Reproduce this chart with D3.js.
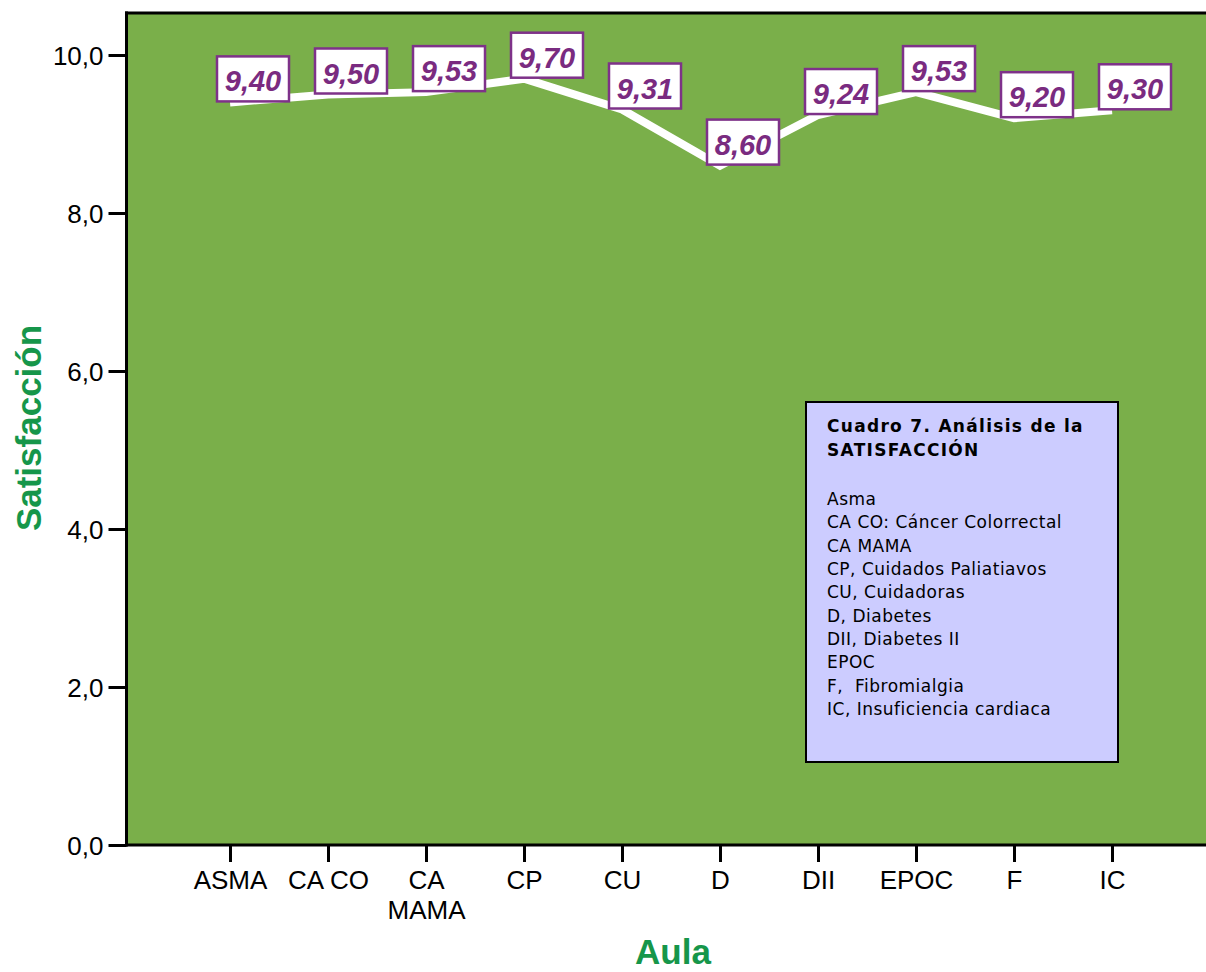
<!DOCTYPE html>
<html>
<head>
<meta charset="utf-8">
<script src="https://cdn.jsdelivr.net/npm/d3@7"></script>
<style>
  html, body { margin: 0; padding: 0; background: #fff; }
  svg { display: block; }
</style>
</head>
<body>
<svg id="chart" width="1206" height="972"></svg>
<script>
// ---- data ----
const categories = ["ASMA", "CA CO", "CA MAMA", "CP", "CU", "D", "DII", "EPOC", "F", "IC"];
const tickLabels = [["ASMA"], ["CA CO"], ["CA", "MAMA"], ["CP"], ["CU"], ["D"], ["DII"], ["EPOC"], ["F"], ["IC"]];
const satisfaction = [9.40, 9.50, 9.53, 9.70, 9.31, 8.60, 9.24, 9.53, 9.20, 9.30];
const yTicks = [0, 2, 4, 6, 8, 10];
const legendTitle = ["Cuadro 7. Análisis de la", "SATISFACCIÓN"];
const legendItems = ["Asma", "CA CO: Cáncer Colorrectal", "CA MAMA", "CP, Cuidados Paliatiavos",
  "CU, Cuidadoras", "D, Diabetes", "DII, Diabetes II", "EPOC", "F,  Fibromialgia", "IC, Insuficiencia cardiaca"];
const xTitle = "Aula";
const yTitle = "Satisfacción";

// ---- layout ----
const plot = { left: 126.5, top: 13, right: 1206, bottom: 845 };
const svg = d3.select("#chart");
const locale = d3.formatLocale({ decimal: ",", thousands: ".", grouping: [3], currency: ["", "€"] });
const f1 = locale.format(".1f");
const f2 = locale.format(".2f");

const x = d3.scalePoint().domain(categories).range([230, 1112]);
const y = d3.scaleLinear().domain([0, 10]).range([845, 55]);

// plot background
svg.append("rect")
  .attr("x", plot.left).attr("y", plot.top)
  .attr("width", plot.right - plot.left).attr("height", plot.bottom - plot.top)
  .attr("fill", "#7AAF4A");

// frame lines
svg.append("line").attr("x1", plot.left - 1.5).attr("x2", plot.right).attr("y1", plot.top).attr("y2", plot.top)
  .attr("stroke", "#000").attr("stroke-width", 3);
svg.append("line").attr("x1", plot.left).attr("x2", plot.left).attr("y1", plot.top - 1.5).attr("y2", plot.bottom + 1.5)
  .attr("stroke", "#000").attr("stroke-width", 3);
svg.append("line").attr("x1", plot.left - 1.5).attr("x2", plot.right).attr("y1", plot.bottom).attr("y2", plot.bottom)
  .attr("stroke", "#000").attr("stroke-width", 3);

// y axis
const yAxis = svg.append("g")
  .attr("transform", `translate(${plot.left},0)`)
  .call(d3.axisLeft(y).tickValues(yTicks).tickFormat(f1).tickSize(18).tickPadding(5));
yAxis.select(".domain").remove();
yAxis.selectAll(".tick line").attr("stroke", "#000").attr("stroke-width", 3);
yAxis.selectAll(".tick text").attr("fill", "#000")
  .style("font-family", "'Liberation Sans', Arial, sans-serif").style("font-size", "26px")
  .attr("dy", "0.36em");

// x axis
const xAxis = svg.append("g")
  .attr("transform", `translate(0,${plot.bottom})`)
  .call(d3.axisBottom(x).tickSize(17).tickFormat(""));
xAxis.select(".domain").remove();
xAxis.selectAll(".tick line").attr("stroke", "#000").attr("stroke-width", 3);
xAxis.selectAll(".tick text").remove();
xAxis.selectAll(".tick").each(function (d, i) {
  const g = d3.select(this);
  tickLabels[i].forEach((ln, j) => {
    g.append("text")
      .attr("text-anchor", "middle").attr("fill", "#000")
      .attr("x", 0).attr("y", 44 + j * 30)
      .style("font-family", "'Liberation Sans', Arial, sans-serif").style("font-size", "26px")
      .text(ln);
  });
});

// axis titles
svg.append("text")
  .attr("x", 673).attr("y", 964).attr("text-anchor", "middle")
  .attr("fill", "#16964A")
  .style("font-family", "'Liberation Sans', Arial, sans-serif").style("font-size", "35px").style("font-weight", "bold")
  .text(xTitle);
svg.append("text")
  .attr("transform", "translate(41,428) rotate(-90)").attr("text-anchor", "middle")
  .attr("fill", "#16964A")
  .style("font-family", "'Liberation Sans', Arial, sans-serif").style("font-size", "35px").style("font-weight", "bold")
  .text(yTitle);

// line
const data = categories.map((c, i) => ({ c, v: satisfaction[i] }));
svg.append("path")
  .datum(data)
  .attr("d", d3.line().x(d => x(d.c)).y(d => y(d.v)))
  .attr("fill", "none").attr("stroke", "#fff").attr("stroke-width", 8)
  .attr("stroke-linejoin", "miter");

// value labels
const lab = svg.append("g").selectAll("g").data(data).join("g")
  .attr("transform", d => `translate(${x(d.c)},${y(d.v)})`);
lab.append("rect")
  .attr("x", -13).attr("y", -46).attr("width", 72).attr("height", 45)
  .attr("fill", "#fff").attr("stroke", "#7E3289").attr("stroke-width", 2.5);
lab.append("text")
  .attr("x", 23).attr("y", -11).attr("text-anchor", "middle")
  .attr("fill", "#7A2B80")
  .style("font-family", "'Liberation Sans', Arial, sans-serif").style("font-size", "29px")
  .style("font-weight", "bold").style("font-style", "italic")
  .text(d => f2(d.v));

// legend box
const lg = svg.append("g");
lg.append("rect").attr("x", 806).attr("y", 402).attr("width", 312).attr("height", 360)
  .attr("fill", "#CCCCFF").attr("stroke", "#000").attr("stroke-width", 2);
legendTitle.forEach((t, i) => {
  lg.append("text").attr("x", 827).attr("y", 432 + i * 24)
    .attr("fill", "#000")
    .style("font-family", "Verdana, 'DejaVu Sans', sans-serif").style("font-size", "17px").style("font-weight", "bold")
    .style("letter-spacing", "1.3px")
    .text(t);
});
legendItems.forEach((t, i) => {
  lg.append("text").attr("x", 827).attr("y", 505 + i * 23.35)
    .attr("fill", "#000")
    .style("font-family", "Verdana, 'DejaVu Sans', sans-serif").style("font-size", "17px")
    .style("letter-spacing", "0.5px")
    .style("white-space", "pre")
    .text(t);
});
</script>
</body>
</html>
